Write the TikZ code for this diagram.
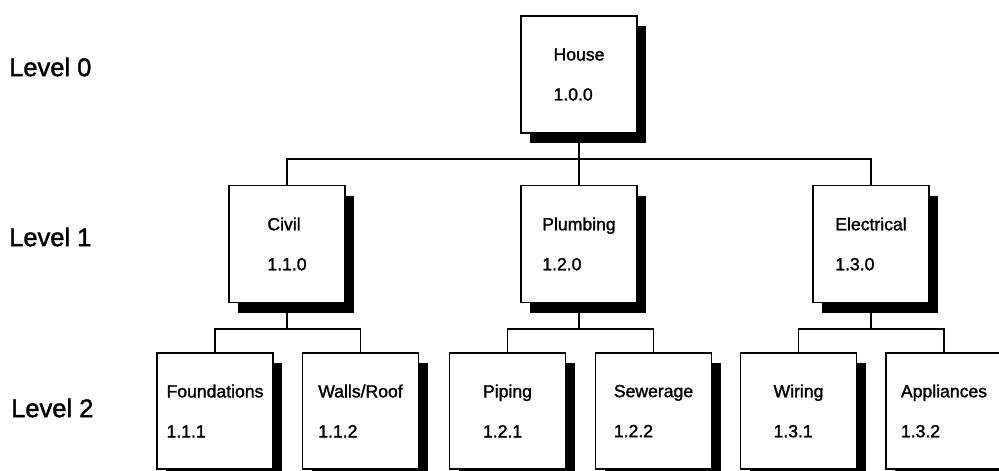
\documentclass[tikz,border=0pt]{standalone}
\usepackage{fontspec}
\setmainfont{Liberation Sans}
\newfontfamily\heavysans[FakeBold=1.5]{Liberation Sans}
\usetikzlibrary{shadows}
\begin{document}
\begin{tikzpicture}[x=1pt,y=-1pt,
  wbs/.style={draw=black, line width=1.6pt, fill=white, inner sep=0pt,
    minimum width=116pt, minimum height=117pt, align=left,
    font={\heavysans\fontsize{17.6}{40}\selectfont},
    drop shadow={shadow xshift=9pt, shadow yshift=-10pt, fill=black, opacity=1}},
  wbsb/.style={wbs, minimum height=116pt},
  lvl/.style={anchor=west, inner sep=0pt, font={\heavysans\fontsize{25.5}{28}\selectfont}},
  conn/.style={line width=1.6pt}]
\useasboundingbox (0,0) rectangle (999,471);
\clip (0,0) rectangle (999,471);
\fill[white] (0,0) rectangle (999,471);

\node[lvl] (l0) at (9,67) {Level 0};
\node[lvl] (l1) at (9,237) {Level 1};
\node[lvl] (l2) at (11,408) {Level 2};

\node[wbs] (house) at (579,74.5) {House\\1.0.0};
\node[wbs] (civil) at (287,244) {Civil\\1.1.0};
\node[wbs] (plumb) at (579,244) {Plumbing\\1.2.0};
\node[wbs] (elec) at (871,244) {Electrical\\1.3.0};

\node[wbsb] (found) at (215,411) {Foundations\\1.1.1};
\node[wbsb] (walls) at (360.5,411) {Walls/Roof\\1.1.2};
\node[wbsb] (piping) at (507.5,411) {Piping\\1.2.1};
\node[wbsb] (sewer) at (653.5,411) {Sewerage\\1.2.2};
\node[wbsb] (wiring) at (798.5,411) {Wiring\\1.3.1};
\node[wbsb] (appl) at (944,411) {Appliances\\1.3.2};

\coordinate (j0) at (579,159);
\coordinate (j1) at (287,329);
\coordinate (j2) at (579,329);
\coordinate (j3) at (871,329);

\draw[conn] (house.south) -- (j0);
\draw[conn] (j0) -| (civil.north);
\draw[conn] (j0) -- (plumb.north);
\draw[conn] (j0) -| (elec.north);

\draw[conn] (civil.south) -- (j1);
\draw[conn] (j1) -| (found.north);
\draw[conn] (j1) -| (walls.north);
\draw[conn] (plumb.south) -- (j2);
\draw[conn] (j2) -| (piping.north);
\draw[conn] (j2) -| (sewer.north);
\draw[conn] (elec.south) -- (j3);
\draw[conn] (j3) -| (wiring.north);
\draw[conn] (j3) -| (appl.north);
\end{tikzpicture}
\end{document}
